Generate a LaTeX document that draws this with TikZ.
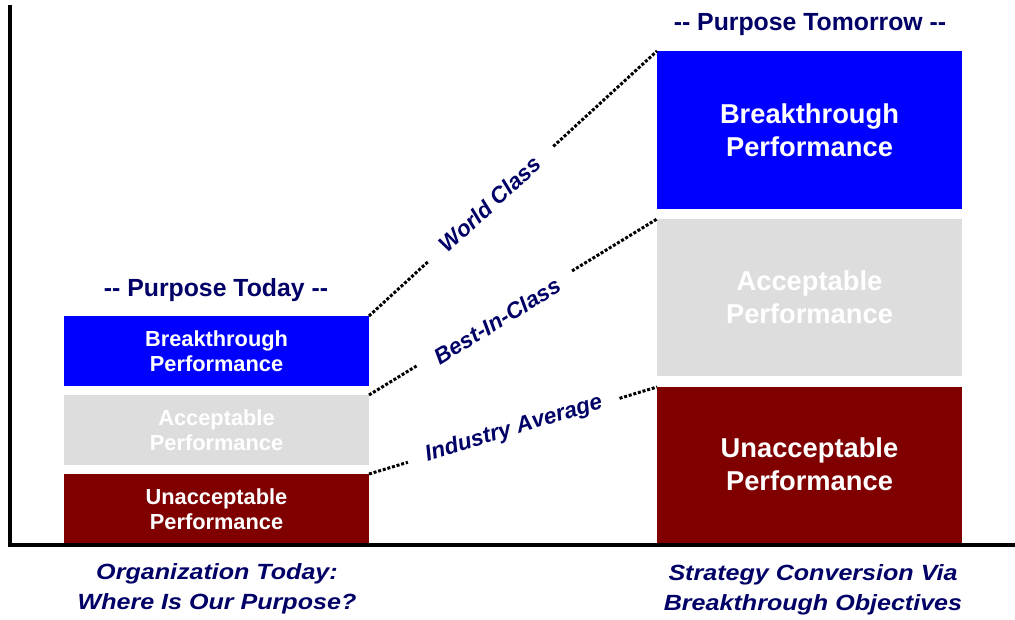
\documentclass[tikz,border=0pt]{standalone}
\usepackage{fontspec}
\usetikzlibrary{calc}
\setmainfont{Liberation Sans}
\newfontfamily\widefont[FakeStretch=1.14]{Liberation Sans}
\definecolor{bblue}{HTML}{0000FF}
\definecolor{bgray}{HTML}{DDDDDD}
\definecolor{bred}{HTML}{800000}
\definecolor{navy}{HTML}{000066}
\begin{document}
\begin{tikzpicture}[x=1pt,y=-1pt,
  dots/.style={line width=3pt,dash pattern=on 3pt off 1.8pt},
  smalltxt/.style={text=white,font=\fontsize{21.8}{25}\selectfont\bfseries,align=center},
  bigtxt/.style={text=white,font=\fontsize{27.3}{33}\selectfont\bfseries,align=center},
  head/.style={text=navy,font=\fontsize{24.8}{26}\selectfont\bfseries},
  lab/.style={text=navy,font=\fontsize{22.5}{24}\selectfont\bfseries\itshape},
  foot/.style={text=navy,font=\fontsize{22}{30}\selectfont\widefont\bfseries\itshape,align=center}]
\useasboundingbox (0,0) rectangle (1015,619);
% axes
\draw[line width=4pt] (10,5) -- (10,545) -- (1015,545);
% left boxes
\fill[bblue] (64,316) rectangle (369,386);
\fill[bgray] (64,395) rectangle (369,465);
\fill[bred] (64,474) rectangle (369,543);
\node[smalltxt] (lb) at (216.5,351) {Breakthrough\\Performance};
\node[smalltxt] (lg) at (216.5,430) {Acceptable\\Performance};
\node[smalltxt] (lr) at (216.5,509) {Unacceptable\\Performance};
% right boxes
\fill[bblue] (657,51) rectangle (962,209);
\fill[bgray] (657,219) rectangle (962,376);
\fill[bred] (657,387) rectangle (962,543);
\node[bigtxt] (rb) at (809.5,130) {Breakthrough\\Performance};
\node[bigtxt] (rg) at (809.5,297) {Acceptable\\Performance};
\node[bigtxt] (rr) at (809.5,464) {Unacceptable\\Performance};
% headings
\node[head] (ht) at (216,290) {-{}- Purpose Today -{}-};
\node[head] (hm) at (810,25) {-{}- Purpose Tomorrow -{}-};
% connector coordinates
\coordinate (a1) at (369,316); \coordinate (b1) at (657,51);
\coordinate (a2) at (369,395); \coordinate (b2) at (657,219);
\coordinate (a3) at (369,474); \coordinate (b3) at (657,387);
\draw[dots] (a1) -- ($(a1)!0.205!(b1)$);
\draw[dots] ($(a1)!0.64!(b1)$) -- (b1);
\draw[dots] (a2) -- ($(a2)!0.165!(b2)$);
\draw[dots] ($(a2)!0.705!(b2)$) -- (b2);
\draw[dots] (a3) -- ($(a3)!0.135!(b3)$);
\draw[dots] ($(a3)!0.87!(b3)$) -- (b3);
% labels
\node[lab,rotate=42.6] (wc) at (490,204) {World Class};
\node[lab,rotate=31.4] (bc) at (497,321) {Best-In-Class};
\node[lab,rotate=16.8] (ia) at (514,429) {Industry Average};
% footers
\node[foot] (fl) at (217,589) {Organization Today:\\Where Is Our Purpose?};
\node[foot] (fr) at (813,590) {Strategy Conversion Via\\Breakthrough Objectives};
\end{tikzpicture}
\end{document}
